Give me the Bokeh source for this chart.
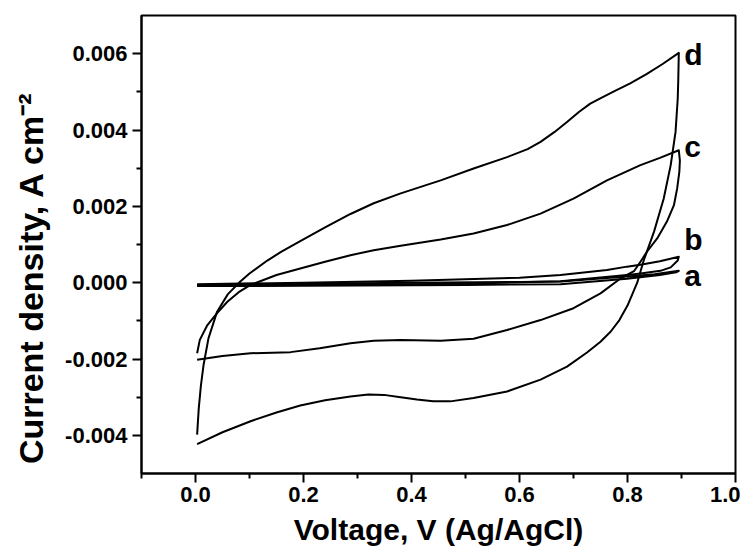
from bokeh.plotting import figure
from bokeh.models import FixedTicker, PrintfTickFormatter, Range1d, Label
from bokeh.embed import file_html
from bokeh.resources import INLINE

# Curve d (anodic sweep then cathodic sweep)
d_x = [0.003, 0.006, 0.010, 0.015, 0.024, 0.040, 0.060, 0.083, 0.100, 0.133, 0.160, 0.194, 0.240, 0.287, 0.330, 0.380,
       0.454, 0.515, 0.577, 0.615, 0.639, 0.665, 0.688, 0.710, 0.731, 0.755, 0.775, 0.805, 0.836, 0.865, 0.895,
       0.894, 0.893, 0.889, 0.880, 0.867, 0.849, 0.830, 0.818, 0.800, 0.785, 0.769, 0.750, 0.725, 0.688, 0.639,
       0.577, 0.515, 0.472, 0.440, 0.410, 0.380, 0.349, 0.320, 0.287, 0.240, 0.194, 0.150, 0.102, 0.050, 0.003]
d_y = [-0.00398, -0.00330, -0.00270, -0.00215, -0.00146, -0.00076, -0.00030, 0.00003, 0.00024, 0.00058,
       0.00082, 0.00109, 0.00145, 0.00180, 0.00208, 0.00234, 0.00268, 0.00299, 0.00329, 0.00350, 0.00369,
       0.00395, 0.00421, 0.00447, 0.00469, 0.00487, 0.00501, 0.00522, 0.00547, 0.00573, 0.00602,
       0.00530, 0.00482, 0.00395, 0.00308, 0.00220, 0.00133, 0.00058, 0.00000, -0.00060, -0.00098, -0.00128,
       -0.00155, -0.00183, -0.00220, -0.00254, -0.00285, -0.00302, -0.00311, -0.00311, -0.00306, -0.00300,
       -0.00294, -0.00293, -0.00298, -0.00308, -0.00322, -0.00340, -0.00363, -0.00392, -0.00423]

# Curve c
c_x = [0.003, 0.008, 0.022, 0.040, 0.059, 0.080, 0.102, 0.150, 0.194, 0.240, 0.287, 0.330, 0.380, 0.454, 0.515,
       0.577, 0.639, 0.700, 0.762, 0.824, 0.860, 0.895,
       0.897, 0.896, 0.892, 0.886, 0.873, 0.855, 0.836, 0.824, 0.812, 0.787, 0.750, 0.700, 0.639, 0.577,
       0.515, 0.454, 0.380, 0.330, 0.287, 0.230, 0.176, 0.102, 0.050, 0.003]
c_y = [-0.00185, -0.00150, -0.00111, -0.00080, -0.00050, -0.00025, -0.00006, 0.00020, 0.00037, 0.00055,
       0.00072, 0.00085, 0.00097, 0.00113, 0.00129, 0.00151, 0.00181, 0.00220, 0.00268, 0.00308, 0.00327,
       0.00347,
       0.00320, 0.00290, 0.00247, 0.00203, 0.00160, 0.00116, 0.00081, 0.00055, 0.00030, 0.00011, -0.00028,
       -0.00067, -0.00098, -0.00124, -0.00147, -0.00152, -0.00150, -0.00152, -0.00159, -0.00172, -0.00182,
       -0.00185, -0.00192, -0.00202]

# Curve b
b_x = [0.003, 0.200, 0.400, 0.600, 0.676, 0.762, 0.799, 0.824, 0.860, 0.895,
       0.893, 0.880, 0.861, 0.824, 0.799, 0.676, 0.500, 0.200, 0.003]
b_y = [-0.00004, 0.00000, 0.00005, 0.00013, 0.00020, 0.00033, 0.00042, 0.00047, 0.00056, 0.00068,
       0.00058, 0.00040, 0.00031, 0.00024, 0.00020, 0.00004, -0.00003, -0.00006, -0.00008]

# Curve a
a_x = [0.003, 0.200, 0.400, 0.600, 0.676, 0.762, 0.799, 0.850, 0.895,
       0.890, 0.860, 0.799, 0.676, 0.500, 0.200, 0.003]
a_y = [-0.00006, -0.00003, 0.00000, 0.00002, 0.00003, 0.00012, 0.00016, 0.00022, 0.00031,
       0.00027, 0.00020, 0.00010, -0.00004, -0.00006, -0.00008, -0.00009]

curve_labels = ["d", "c", "b", "a"]
label_y = [0.00598, 0.00356, 0.00114, 0.00018]
label_x = 0.905

x_ticks = [0.0, 0.2, 0.4, 0.6, 0.8, 1.0]
x_minor = [-0.1, 0.1, 0.3, 0.5, 0.7, 0.9]
y_ticks = [-0.004, -0.002, 0.0, 0.002, 0.004, 0.006]
y_minor = [-0.003, -0.001, 0.001, 0.003, 0.005]

x_title = "Voltage, V (Ag/AgCl)"
# trailing no-break spaces shift the visible title toward the bottom, as in the original
y_title = "Current density, A cm\u207b\u00b2" + "\u00a0" * 7

FONT = "Liberation Sans"

p = figure(width=740, height=550, output_backend="svg", toolbar_location=None,
           x_range=Range1d(-0.1, 1.0), y_range=Range1d(-0.005, 0.007),
           min_border_left=141, min_border_right=5, min_border_top=15, min_border_bottom=77)
p.grid.visible = False
p.outline_line_color = "black"
p.outline_line_width = 2
p.background_fill_color = "white"
p.border_fill_color = "white"

for xs, ys in [(d_x, d_y), (c_x, c_y), (b_x, b_y), (a_x, a_y)]:
    p.line(xs, ys, line_color="black", line_width=2, line_join="round")

for name, ly in zip(curve_labels, label_y):
    p.add_layout(Label(x=label_x, y=ly, text=name, text_font=FONT, text_font_style="bold",
                       text_font_size="30px", text_baseline="middle", text_align="left",
                       text_color="black"))

p.xaxis.ticker = FixedTicker(ticks=x_ticks, minor_ticks=x_minor)
p.yaxis.ticker = FixedTicker(ticks=y_ticks, minor_ticks=y_minor)
p.xaxis.formatter = PrintfTickFormatter(format="%.1f")
p.yaxis.formatter = PrintfTickFormatter(format="%.3f")

for ax in [p.xaxis[0], p.yaxis[0]]:
    ax.axis_line_width = 2
    ax.axis_line_color = "black"
    ax.major_tick_line_width = 2
    ax.minor_tick_line_width = 2
    ax.major_tick_line_color = "black"
    ax.minor_tick_line_color = "black"
    ax.major_tick_out = 9
    ax.major_tick_in = 0
    ax.minor_tick_out = 5
    ax.minor_tick_in = 0
    ax.major_label_text_font = FONT
    ax.major_label_text_font_style = "bold"
    ax.major_label_text_font_size = "22px"
    ax.major_label_text_color = "black"
    ax.axis_label_text_font = FONT
    ax.axis_label_text_font_style = "bold"
    ax.axis_label_text_color = "black"

p.xaxis.axis_label = x_title
p.xaxis.axis_label_text_font_size = "30px"
p.yaxis.axis_label = y_title
p.yaxis.axis_label_text_font_size = "34px"
p.xaxis.major_label_standoff = 4
p.yaxis.major_label_standoff = 5
p.xaxis.axis_label_standoff = 8
p.yaxis.axis_label_standoff = 12

open("out.html", "w").write(file_html(p, INLINE))
